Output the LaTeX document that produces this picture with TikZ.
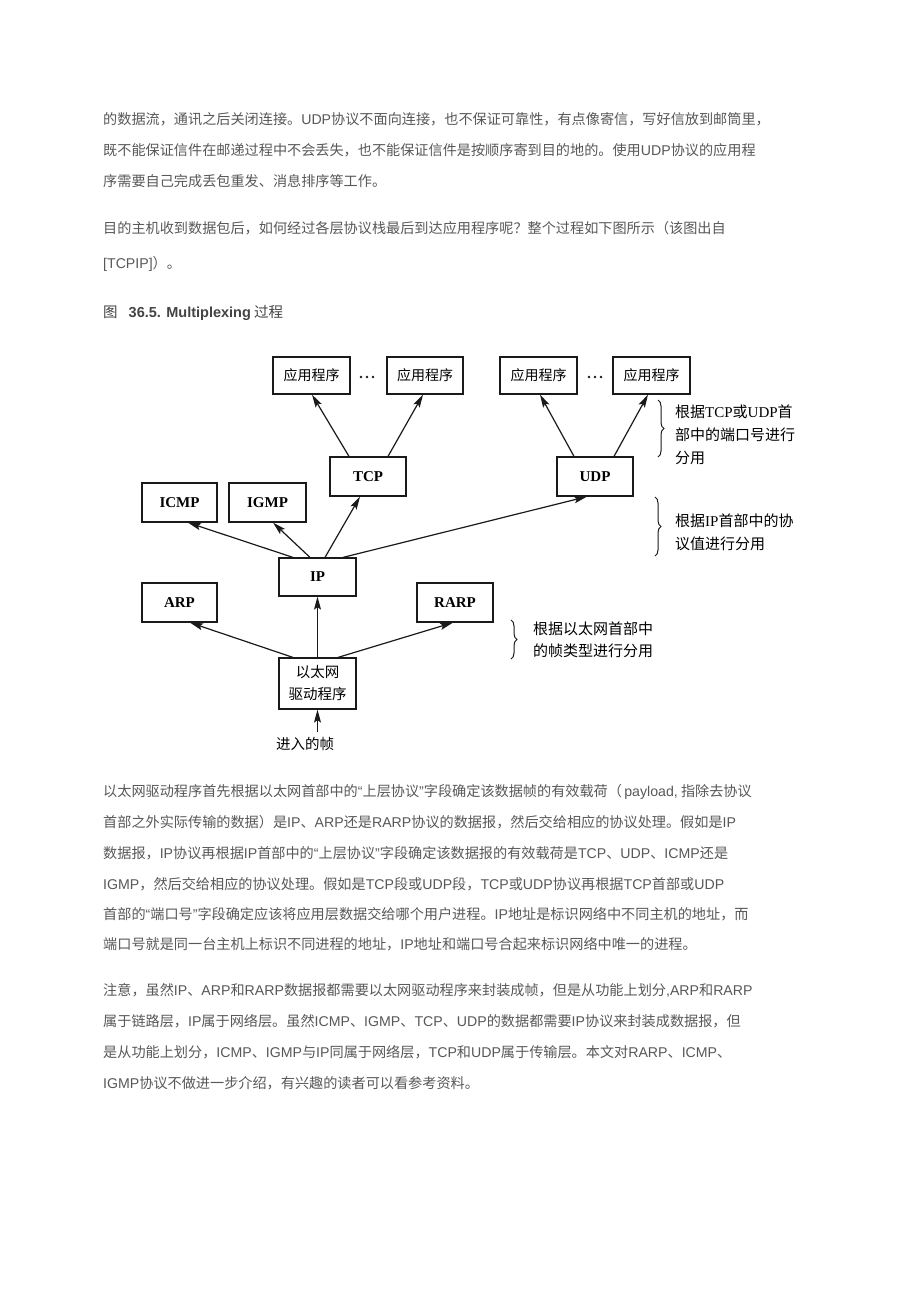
\documentclass[tikz,border=0pt]{standalone}
\usepackage{fontspec}
\setmainfont{Liberation Sans}
\newfontfamily\cjk{Noto Sans CJK SC}
\newfontfamily\latfont{Liberation Sans}
\newfontfamily\serfont{Liberation Serif}
\newcommand{\lat}[1]{{\latfont #1}}
\newcommand{\ser}[1]{{\serfont #1}}
\usetikzlibrary{arrows.meta,decorations.pathreplacing}
\definecolor{bodytxt}{HTML}{585858}
\definecolor{captxt}{HTML}{444444}
\definecolor{linec}{HTML}{1A1A1A}
\begin{document}
\begin{tikzpicture}[x=1pt,y=-1pt,
  body/.style={anchor=base west, inner sep=0pt, text=bodytxt, font=\cjk\fontsize{14.15}{14}\selectfont},
  box/.style={draw=linec, line width=1.2pt, inner sep=0pt, align=center},
  cjkbox/.style={box, font=\cjk\fontsize{14}{17}\selectfont},
  latbox/.style={box, font=\serfont\bfseries\fontsize{15}{15}\selectfont},
  note/.style={anchor=base west, inner sep=0pt, font=\cjk\fontsize{15}{15}\selectfont},
  arr/.style={draw=linec, line width=1.2pt, -{Stealth[length=13pt,width=7pt,inset=2.5pt]}},
  brc/.style={draw=linec, line width=1pt, decorate, decoration={brace, amplitude=6pt}}
]
\useasboundingbox (0,0) rectangle (920,1302);
\fill[white] (0,0) rectangle (920,1302);

% ---------- paragraph text ----------
\node[body] (l1) at (103,124) {的数据流，通讯之后关闭连接。\lat{UDP}协议不面向连接，也不保证可靠性，有点像寄信，写好信放到邮筒里，};
\node[body] (l2) at (103,155) {既不能保证信件在邮递过程中不会丢失，也不能保证信件是按顺序寄到目的地的。使用\lat{UDP}协议的应用程};
\node[body] (l3) at (103,186) {序需要自己完成丢包重发、消息排序等工作。};
\node[body] (l4) at (103,233) {目的主机收到数据包后，如何经过各层协议栈最后到达应用程序呢？整个过程如下图所示（该图出自};
\node[body] (l5) at (103,268) {\lat{[TCPIP]}）。};
\node[body, text=captxt, font=\cjk\fontsize{14.5}{14}\selectfont] (cap) at (103,317) {图\hspace{11pt}{\latfont\bfseries 36.5. Multiplexing} 过程};

\node[body] (l6) at (103,796) {以太网驱动程序首先根据以太网首部中的\lat{“}上层协议\lat{”}字段确定该数据帧的有效载荷（\,\lat{payload,} 指除去协议};
\node[body] (l7) at (103,827) {首部之外实际传输的数据）是\lat{IP}、\lat{ARP}还是\lat{RARP}协议的数据报，然后交给相应的协议处理。假如是\lat{IP}};
\node[body] (l8) at (103,858) {数据报，\lat{IP}协议再根据\lat{IP}首部中的\lat{“}上层协议\lat{”}字段确定该数据报的有效载荷是\lat{TCP}、\lat{UDP}、\lat{ICMP}还是};
\node[body] (l9) at (103,889) {\lat{IGMP}，然后交给相应的协议处理。假如是\lat{TCP}段或\lat{UDP}段，\lat{TCP}或\lat{UDP}协议再根据\lat{TCP}首部或\lat{UDP}};
\node[body] (l10) at (103,919) {首部的\lat{“}端口号\lat{”}字段确定应该将应用层数据交给哪个用户进程。\lat{IP}地址是标识网络中不同主机的地址，而};
\node[body] (l11) at (103,949) {端口号就是同一台主机上标识不同进程的地址，\lat{IP}地址和端口号合起来标识网络中唯一的进程。};

\node[body] (l12) at (103,995) {注意，虽然\lat{IP}、\lat{ARP}和\lat{RARP}数据报都需要以太网驱动程序来封装成帧，但是从功能上划分\lat{,ARP}和\lat{RARP}};
\node[body] (l13) at (103,1026) {属于链路层，\lat{IP}属于网络层。虽然\lat{ICMP}、\lat{IGMP}、\lat{TCP}、\lat{UDP}的数据都需要\lat{IP}协议来封装成数据报，但};
\node[body] (l14) at (103,1057) {是从功能上划分，\lat{ICMP}、\lat{IGMP}与\lat{IP}同属于网络层，\lat{TCP}和\lat{UDP}属于传输层。本文对\lat{RARP}、\lat{ICMP}、};
\node[body] (l15) at (103,1088) {\lat{IGMP}协议不做进一步介绍，有兴趣的读者可以看参考资料。};

% ---------- diagram boxes ----------
\node[cjkbox, minimum width=77pt, minimum height=37pt] (app1) at (311.5,375.5) {应用程序};
\node[cjkbox, minimum width=76pt, minimum height=37pt] (app2) at (425,375.5) {应用程序};
\node[cjkbox, minimum width=77pt, minimum height=37pt] (app3) at (538.5,375.5) {应用程序};
\node[cjkbox, minimum width=77pt, minimum height=37pt] (app4) at (651.5,375.5) {应用程序};

\foreach \cx in {367,595}{
  \fill[linec] (\cx-6,377) circle (1.4pt) (\cx,377) circle (1.4pt) (\cx+6,377) circle (1.4pt);
}

\node[latbox, minimum width=76pt, minimum height=39pt] (tcp) at (368,476.5) {TCP};
\node[latbox, minimum width=76pt, minimum height=39pt] (udp) at (595,476.5) {UDP};
\node[latbox, minimum width=75pt, minimum height=39pt] (icmp) at (179.5,502.5) {ICMP};
\node[latbox, minimum width=77pt, minimum height=39pt] (igmp) at (267.5,502.5) {IGMP};
\node[latbox, minimum width=77pt, minimum height=38pt] (ip) at (317.5,577) {IP};
\node[latbox, minimum width=75pt, minimum height=39pt] (arp) at (179.5,602.5) {ARP};
\node[latbox, minimum width=76pt, minimum height=39pt] (rarp) at (455,602.5) {RARP};
\node[cjkbox, minimum width=77pt, minimum height=51pt, font=\cjk\fontsize{14.5}{22}\selectfont] (eth) at (317.5,683.5) {以太网\\驱动程序};
\node[inner sep=0pt, font=\cjk\fontsize{14.5}{14}\selectfont] (in) at (305,744) {进入的帧};

% ---------- arrows ----------
\draw[arr] ([xshift=-19pt]tcp.north) -- ([xshift=0.5pt]app1.south);
\draw[arr] ([xshift=20pt]tcp.north) -- ([xshift=-2pt]app2.south);
\draw[arr] ([xshift=-21pt]udp.north) -- ([xshift=1.5pt]app3.south);
\draw[arr] ([xshift=19pt]udp.north) -- ([xshift=-3.5pt]app4.south);
\draw[arr] ([xshift=-24.5pt]ip.north) -- ([xshift=8.5pt]icmp.south);
\draw[arr] ([xshift=-7.5pt]ip.north) -- ([xshift=5.5pt]igmp.south);
\draw[arr] ([xshift=7.5pt]ip.north) -- ([xshift=-8pt]tcp.south);
\draw[arr] ([xshift=25.5pt]ip.north) -- ([xshift=-8pt]udp.south);
\draw[arr] ([xshift=-24.5pt]eth.north) -- ([xshift=10.5pt]arp.south);
\draw[arr] (eth.north) -- (ip.south);
\draw[arr] ([xshift=20.5pt]eth.north) -- ([xshift=-2pt]rarp.south);
\draw[arr] ([xshift=12.5pt,yshift=5pt]in.north) -- ([xshift=0pt]eth.south);

% ---------- braces and notes ----------
\coordinate (b1t) at (658,400); \coordinate (b1b) at (658,457);
\draw[brc] (b1t) -- (b1b);
\node[note] (n1a) at (675,417) {根据\ser{TCP}或\ser{UDP}首};
\node[note] (n1b) at (675,440) {部中的端口号进行};
\node[note] (n1c) at (675,463) {分用};

\coordinate (b2t) at (655,497); \coordinate (b2b) at (655,556);
\draw[brc] (b2t) -- (b2b);
\node[note] (n2a) at (675,526) {根据\ser{IP}首部中的协};
\node[note] (n2b) at (675,549) {议值进行分用};

\coordinate (b3t) at (511,620); \coordinate (b3b) at (511,659);
\draw[brc] (b3t) -- (b3b);
\node[note] (n3a) at (533,634) {根据以太网首部中};
\node[note] (n3b) at (533,656) {的帧类型进行分用};
\end{tikzpicture}
\end{document}
